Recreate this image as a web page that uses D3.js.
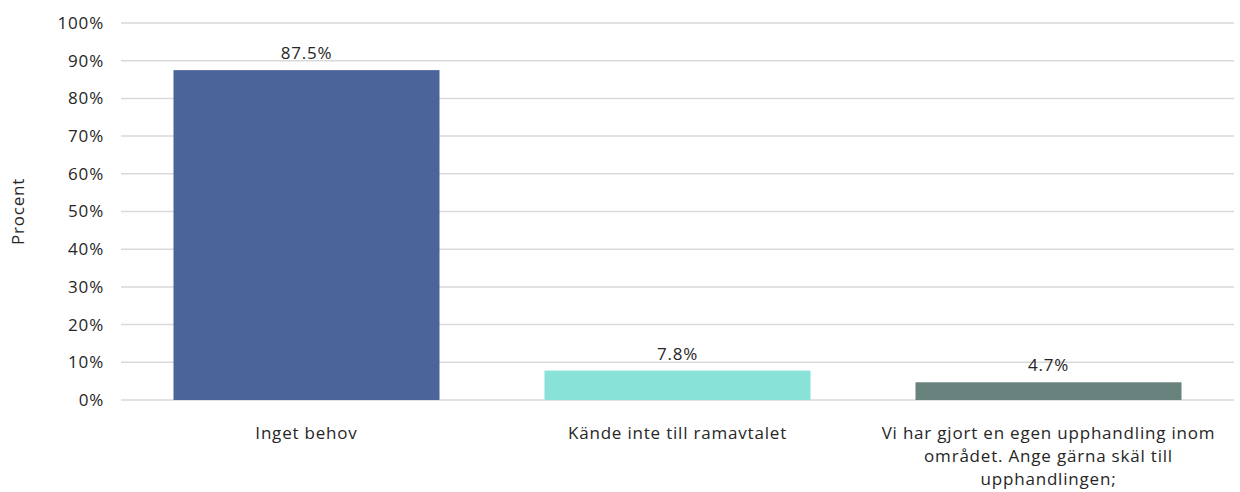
<!DOCTYPE html>
<html><head><meta charset="utf-8">
<script src="https://cdn.jsdelivr.net/npm/d3@7"></script>
<style>body{margin:0;background:#fff}svg{display:block}text{font-family:"Open Sans","Liberation Sans",sans-serif;fill:#262626;letter-spacing:0.8px}</style>
</head><body><svg id="c" width="1240" height="492"></svg>
<script>
const categories = [["Inget behov"],["Kände inte till ramavtalet"],["Vi har gjort en egen upphandling inom","området. Ange gärna skäl till","upphandlingen;"]];
const values = [87.5, 7.8, 4.7];
const colors = ["#4b659b","#88e2d8","#68837e"];
const yTicks = [0,10,20,30,40,50,60,70,80,90,100];
const yLabel = "Procent";

const svg = d3.select("#c");
const m = {l:121, r:1234, t:23, b:400};
const fs = "17px";
const x = d3.scaleBand().domain(d3.range(values.length)).range([m.l,m.r]).paddingInner(0.283).paddingOuter(0.1415);
const y = d3.scaleLinear().domain([0,100]).range([m.b,m.t]);

svg.append("g").selectAll("line").data(yTicks).join("line")
  .attr("x1",m.l).attr("x2",m.r).attr("y1",d=>y(d)).attr("y2",d=>y(d))
  .attr("stroke","#d9d9d9").attr("stroke-width",1.5);

const yAxis = d3.axisLeft(y).tickValues(yTicks).tickFormat(d=>d+"%").tickSize(0).tickPadding(17);
const ga = svg.append("g").attr("transform",`translate(${m.l},0)`).call(yAxis);
ga.select(".domain").remove();
ga.selectAll("text").style("font-size",fs).attr("fill","#262626").style("font-family","'Open Sans','Liberation Sans',sans-serif");

svg.append("text").attr("transform",`translate(24,${(m.t+m.b)/2}) rotate(-90)`).attr("text-anchor","middle").style("font-size",fs).text(yLabel);

svg.append("g").selectAll("rect").data(values).join("rect")
  .attr("x",(d,i)=>x(i)).attr("width",x.bandwidth())
  .attr("y",d=>y(d)).attr("height",d=>y(0)-y(d)).attr("fill",(d,i)=>colors[i]);

svg.append("g").selectAll("text").data(values).join("text")
  .attr("x",(d,i)=>x(i)+x.bandwidth()/2).attr("y",d=>y(d)-11)
  .attr("text-anchor","middle").style("font-size",fs).text(d=>d.toFixed(1)+"%");

const cl = svg.append("g").selectAll("text").data(categories).join("text")
  .attr("text-anchor","middle").style("font-size",fs);
cl.each(function(lines,i){
  d3.select(this).selectAll("tspan").data(lines).join("tspan")
    .attr("x",x(i)+x.bandwidth()/2).attr("y",(d,j)=>439+j*23).text(d=>d);
});
</script></body></html>
